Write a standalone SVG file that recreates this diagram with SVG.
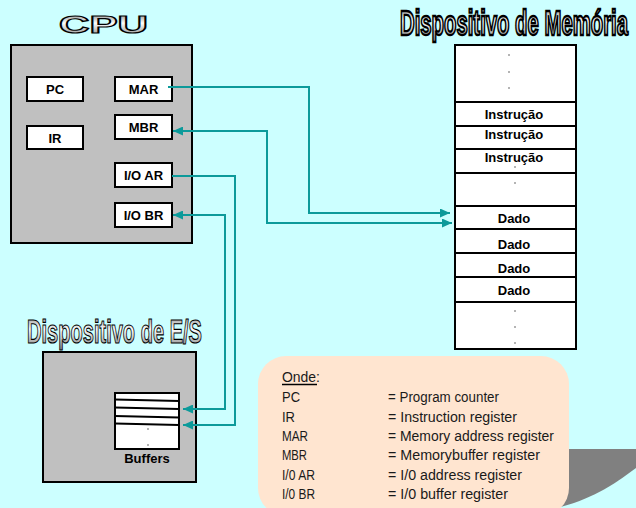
<svg xmlns="http://www.w3.org/2000/svg" width="636" height="508" viewBox="0 0 636 508">
<defs>
<linearGradient id="silver" x1="0" y1="0" x2="0" y2="1">
<stop offset="0" stop-color="#6e6e6e"/>
<stop offset="0.45" stop-color="#ffffff"/>
<stop offset="1" stop-color="#7a7a7a"/>
</linearGradient>
<marker id="arr" markerUnits="userSpaceOnUse" markerWidth="10" markerHeight="9" refX="10" refY="4.5" orient="auto-start-reverse">
<path d="M0,0 L10,4.5 L0,9 z" fill="#0c9a9a"/>
</marker>
<style>
.gbox{fill:#c0c0c0;stroke:#000;stroke-width:2}
.reg{fill:#fff;stroke:#000;stroke-width:2}
.rt{font-family:"Liberation Sans",Arial,sans-serif;font-weight:bold;font-size:13px;fill:#000;text-anchor:middle}
.mem{fill:#fff;stroke:#000;stroke-width:2}
.div{stroke:#000;stroke-width:2}
.mt{font-family:"Liberation Sans",Arial,sans-serif;font-weight:bold;font-size:13px;fill:#000;text-anchor:middle}
.dot{fill:#555}
.wa{font-family:"Liberation Sans",Arial,sans-serif;font-weight:bold;fill:url(#silver);stroke:#000;stroke-width:1.2}
.conn{fill:none;stroke:#0c9a9a;stroke-width:2}
.lg{font-family:"Liberation Sans Narrow","Liberation Sans",Arial,sans-serif;font-size:15.5px;fill:#1a1a1a}
</style>
</defs>
<rect width="636" height="508" fill="#ccffff"/>

<g id="cpu">
<text class="wa" x="59" y="33" font-size="24" textLength="89" lengthAdjust="spacingAndGlyphs">CPU</text>
<rect class="gbox" x="11" y="45" width="181" height="198"/>
</g>
<g id="pc"><rect class="reg" x="27" y="77" width="56" height="24"/><text class="rt" x="55" y="94">PC</text></g>
<g id="ir"><rect class="reg" x="27" y="126" width="56" height="23"/><text class="rt" x="55" y="143">IR</text></g>
<g id="mar"><rect class="reg" x="115" y="77" width="57" height="24"/><text class="rt" x="143.5" y="94">MAR</text></g>
<g id="mbr"><rect class="reg" x="115" y="115" width="57" height="24"/><text class="rt" x="143.5" y="132">MBR</text></g>
<g id="ioar"><rect class="reg" x="115" y="163" width="57" height="24"/><text class="rt" x="143.5" y="180">I/O AR</text></g>
<g id="iobr"><rect class="reg" x="115" y="203" width="57" height="24"/><text class="rt" x="143.5" y="220">I/O BR</text></g>

<g id="memory">
<text class="wa" transform="translate(400,35) scale(1,1.9)" x="0" y="0" font-size="18" textLength="228" lengthAdjust="spacingAndGlyphs" stroke-width="0.7">Dispositivo de Memória</text>
<rect class="mem" x="455" y="45" width="121" height="304"/>
<line class="div" x1="455" y1="102" x2="576" y2="102"/>
<line class="div" x1="455" y1="126" x2="576" y2="126"/>
<line class="div" x1="455" y1="149" x2="576" y2="149"/>
<line class="div" x1="455" y1="173" x2="576" y2="173"/>
<line class="div" x1="455" y1="206" x2="576" y2="206"/>
<line class="div" x1="455" y1="229" x2="576" y2="229"/>
<line class="div" x1="455" y1="253" x2="576" y2="253"/>
<line class="div" x1="455" y1="277" x2="576" y2="277"/>
<line class="div" x1="455" y1="302" x2="576" y2="302"/>
<circle class="dot" cx="509" cy="55" r="0.8"/>
<circle class="dot" cx="509" cy="72" r="0.8"/>
<circle class="dot" cx="509" cy="88" r="0.8"/>
<circle class="dot" cx="515" cy="167" r="0.8"/>
<circle class="dot" cx="515" cy="183" r="0.8"/>
<circle class="dot" cx="515" cy="311" r="0.8"/>
<circle class="dot" cx="515" cy="327" r="0.8"/>
<circle class="dot" cx="515" cy="343" r="0.8"/>
<text class="mt" x="514" y="119">Instrução</text>
<text class="mt" x="514" y="138.5">Instrução</text>
<text class="mt" x="514" y="162">Instrução</text>
<text class="mt" x="514" y="223">Dado</text>
<text class="mt" x="514" y="249">Dado</text>
<text class="mt" x="514" y="273">Dado</text>
<text class="mt" x="514" y="295">Dado</text>
</g>

<g id="io-device">
<text class="wa" x="27" y="343" font-size="34" textLength="175" lengthAdjust="spacingAndGlyphs">Dispositivo de E/S</text>
<rect class="gbox" x="43" y="352" width="153" height="130"/>
</g>
<g id="buffers">
<rect class="reg" x="115" y="393" width="64" height="56"/>
<line class="div" x1="115" y1="399.5" x2="179" y2="401"/>
<line class="div" x1="115" y1="407.5" x2="179" y2="409"/>
<line class="div" x1="115" y1="416" x2="179" y2="417.5"/>
<line class="div" x1="115" y1="423.5" x2="179" y2="425"/>
<circle class="dot" cx="148" cy="429" r="0.8"/>
<circle class="dot" cx="148" cy="445" r="0.8"/>
<text class="rt" x="147" y="463">Buffers</text>
</g>

<g id="connectors">
<path class="conn" d="M168,87 H309 V213 H450" marker-end="url(#arr)"/>
<path class="conn" d="M452,223 H267 V131 H173" marker-start="url(#arr)" marker-end="url(#arr)"/>
<path class="conn" d="M172,176 H235 V425 H183" marker-end="url(#arr)"/>
<path class="conn" d="M183,409 H225 V215 H173" marker-start="url(#arr)" marker-end="url(#arr)"/>
</g>

<g id="legend">
<path d="M540,449 L636,449 L636,468 C612,486 590,500 556,508 L540,508 Z" fill="#808080"/>
<rect x="258" y="356" width="311" height="160" rx="28" ry="28" fill="#ffe5d0"/>
<text class="lg" x="282" y="382" textLength="38" lengthAdjust="spacingAndGlyphs">Onde:</text>
<line x1="282" y1="384.5" x2="317" y2="384.5" stroke="#000" stroke-width="1.5"/>
<text class="lg" x="282" y="402" textLength="18" lengthAdjust="spacingAndGlyphs">PC</text>
<text class="lg" x="282" y="421.5" textLength="13" lengthAdjust="spacingAndGlyphs">IR</text>
<text class="lg" x="282" y="441" textLength="26" lengthAdjust="spacingAndGlyphs">MAR</text>
<text class="lg" x="282" y="460" textLength="25" lengthAdjust="spacingAndGlyphs">MBR</text>
<text class="lg" x="282" y="479.5" textLength="33" lengthAdjust="spacingAndGlyphs">I/0 AR</text>
<text class="lg" x="282" y="498.5" textLength="33" lengthAdjust="spacingAndGlyphs">I/0 BR</text>
<text class="lg" x="388" y="402" textLength="111" lengthAdjust="spacingAndGlyphs">= Program counter</text>
<text class="lg" x="388" y="421.5" textLength="129" lengthAdjust="spacingAndGlyphs">= Instruction register</text>
<text class="lg" x="388" y="441" textLength="166" lengthAdjust="spacingAndGlyphs">= Memory address register</text>
<text class="lg" x="388" y="460" textLength="152" lengthAdjust="spacingAndGlyphs">= Memorybuffer register</text>
<text class="lg" x="388" y="479.5" textLength="134" lengthAdjust="spacingAndGlyphs">= I/0 address register</text>
<text class="lg" x="388" y="498.5" textLength="120" lengthAdjust="spacingAndGlyphs">= I/0 buffer register</text>
</g>
</svg>
